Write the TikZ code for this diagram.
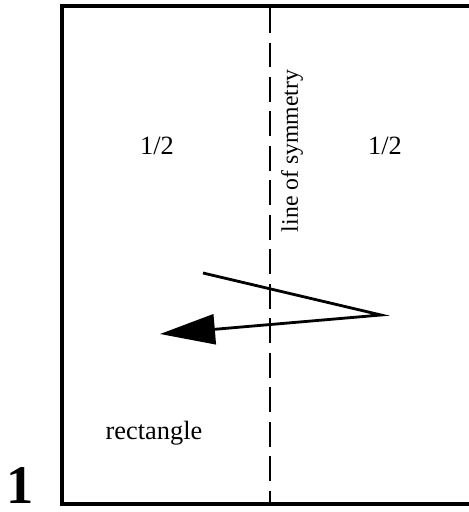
\documentclass[tikz,border=0pt]{standalone}
\usepackage{fontspec}
\setmainfont{Liberation Serif}
\usetikzlibrary{arrows.meta}

\begin{document}
\begin{tikzpicture}[
    x=0.02cm, y=-0.02cm,
    frame/.style={line width=1.8pt},
    symline/.style={line width=1.3pt, dash pattern=on 0.5cm off 0.19cm},
    label/.style={font=\fontsize{15}{15}\selectfont, inner sep=0pt},
    turn/.style={-{Triangle[length=1.1cm, width=0.6cm]}, line width=1.6pt, line join=miter}
]
\useasboundingbox (0,0) rectangle (469,512);
\draw[frame] (62,480) -- (62,504) -- (475,504) -- (475,6) -- (62,6) -- cycle;
\coordinate (top) at (270,8);
\coordinate (bottom) at (270,504);
\draw[symline] (top) -- (bottom);
\node[label] (halfL) at (157,146) {1/2};
\node[label] (halfR) at (385,146) {1/2};
\node[label, font=\fontsize{13.5}{13.5}\selectfont, rotate=90] (sym) at (292,151) {line of symmetry};
\node[label] (rect) at (154,433) {rectangle};
\node[font=\bfseries\fontsize{31}{31}\selectfont, inner sep=0pt, text depth=0pt, anchor=base] (num) at (20,503) {1};
\coordinate (start) at (203,273);
\coordinate (bend) at (381,315);
\coordinate (tip) at (160,334);
\draw[turn] (start) -- (bend) -- (tip);
\end{tikzpicture}
\end{document}
